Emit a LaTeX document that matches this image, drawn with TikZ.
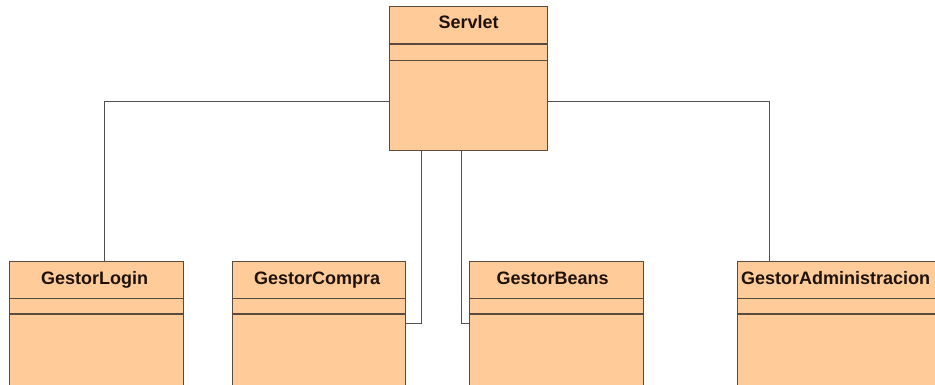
\documentclass[tikz,border=0pt]{standalone}
\usepackage{fontspec}
\setmainfont{Liberation Sans}
\begin{document}
\begin{tikzpicture}[x=1pt,y=-1pt,
  classbox/.style={draw=boxline, fill=classfill, line width=1.2pt, rectangle,
    anchor=north west, inner sep=0pt, minimum width=#1},
  compart/.style={draw=boxline, line width=1.2pt},
  link/.style={draw=linkgray, line width=1pt},
  title/.style={anchor=base, inner sep=0pt, text=titletext,
    font=\fontsize{18}{20}\selectfont\bfseries}]
\definecolor{classfill}{HTML}{FFCC99}
\definecolor{boxline}{HTML}{5A4A3E}
\definecolor{linkgray}{HTML}{505050}
\definecolor{titletext}{HTML}{1E120A}
\useasboundingbox (0,0) rectangle (935,385);
\clip (0,0) rectangle (935,385);

% Servlet class
\node[classbox=158pt, minimum height=144pt] (s) at (389,6) {};
\draw[compart] ([yshift=-38pt]s.north west) -- ([yshift=-38pt]s.north east);
\draw[compart] ([yshift=-54.5pt]s.north west) -- ([yshift=-54.5pt]s.north east);
\node[title] (st) at ([yshift=-23pt]s.north) {Servlet};

% Lower classes (they run past the lower edge)
\node[classbox=174pt, minimum height=140pt] (login) at (9,260.7) {};
\node[classbox=173pt, minimum height=140pt] (compra) at (232,260.7) {};
\node[classbox=174pt, minimum height=140pt] (beans) at (469,260.7) {};
\node[classbox=220pt, minimum height=140pt] (admin) at (737,260.7) {};
\foreach \c in {login,compra,beans,admin}{
  \draw[compart] ([yshift=-38pt]\c.north west) -- ([yshift=-38pt]\c.north east);
  \draw[compart] ([yshift=-53.3pt]\c.north west) -- ([yshift=-53.3pt]\c.north east);
}
\node[title] (lt) at ([xshift=-2pt,yshift=-23.5pt]login.north) {GestorLogin};
\node[title] (ct) at ([xshift=-2pt,yshift=-23.5pt]compra.north) {GestorCompra};
\node[title] (bt) at ([xshift=-4pt,yshift=-23.5pt]beans.north) {GestorBeans};
\node[title, anchor=base west] (at) at ([xshift=4pt,yshift=-23.5pt]admin.north west) {GestorAdministracion};

% Connectors
\draw[link] ([yshift=-96pt]s.north west) -| ([xshift=8pt]login.north);
\draw[link] ([yshift=-96pt]s.north east) -| ([xshift=32pt]admin.north west);
\draw[link] ([xshift=-47pt]s.south) |- ([yshift=-62.3pt]compra.north east);
\draw[link] ([xshift=-7.5pt]s.south) |- ([yshift=-62.3pt]beans.north west);
\end{tikzpicture}
\end{document}
